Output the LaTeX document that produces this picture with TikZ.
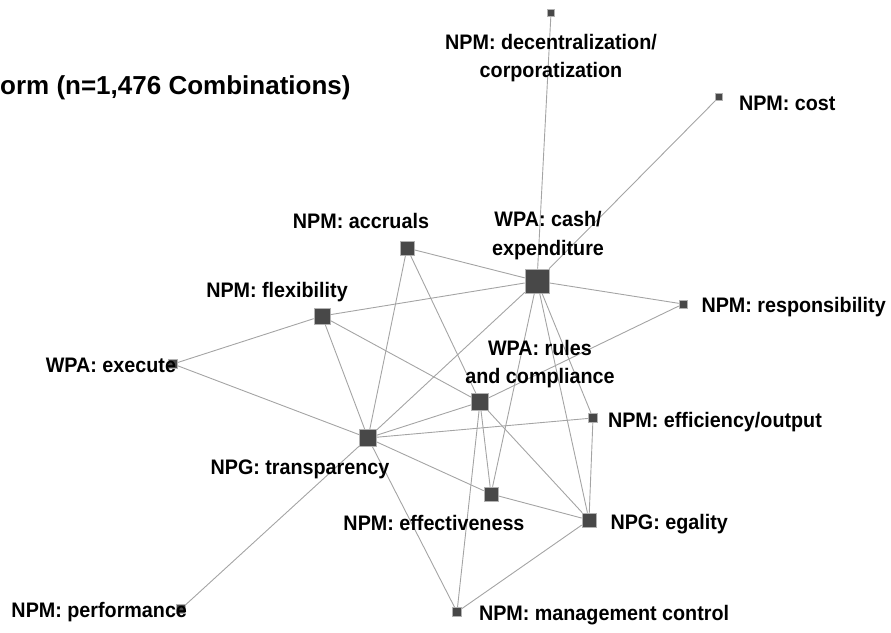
\documentclass[tikz,border=0pt]{standalone}
\usepackage{fontspec}
\setmainfont{Liberation Sans}[FakeStretch=0.94]
\newfontfamily\titlefont{Liberation Sans}
\usetikzlibrary{positioning}
\definecolor{boxgray}{HTML}{484848}
\definecolor{linegray}{HTML}{A4A4A4}

\begin{document}
\begin{tikzpicture}[x=1pt,y=-1pt,
  sq/.style={draw=gray!60,fill=boxgray,line width=0.6pt,inner sep=0pt,minimum size=#1},
  lbl/.style={inner sep=0pt,font=\fontsize{21}{29}\selectfont\bfseries,text height=15.5pt,text depth=4pt},
  two/.style={inner sep=0pt,font=\fontsize{21}{28.5}\selectfont\bfseries,align=center},
  link/.style={draw=linegray,line width=0.9pt}]

\useasboundingbox (0,0) rectangle (891,632);

% squares
\node[sq=7pt]  (dec)    at (551,13)  {};
\node[sq=7pt]  (cost)   at (719,97)  {};
\node[sq=14pt] (accr)   at (407,248) {};
\node[sq=24pt] (cash)   at (537,281) {};
\node[sq=16pt] (flex)   at (322,316) {};
\node[sq=8pt]  (resp)   at (683,304) {};
\node[sq=9pt]  (exec)   at (173,364) {};
\node[sq=17pt] (rules)  at (480,402) {};
\node[sq=9pt]  (effout) at (593,418) {};
\node[sq=17pt] (transp) at (368,438) {};
\node[sq=14pt] (effect) at (491,494) {};
\node[sq=14pt] (egal)   at (589,520) {};
\node[sq=9pt]  (perf)   at (181,609) {};
\node[sq=9pt]  (mgmt)   at (457,612) {};

% links
\path[link] (cash) edge (dec) edge (cost) edge (accr) edge (flex) edge (resp)
                   edge (transp) edge (effect) edge (effout) edge (egal)
            (flex) edge (exec) edge (transp) edge (rules)
            (accr) edge (transp) edge (rules)
            (rules) edge (resp) edge (transp) edge (effect) edge (egal) edge (mgmt)
            (transp) edge (exec) edge (effout) edge (effect) edge (perf) edge (mgmt)
            (egal) edge (effect) edge (effout) edge (mgmt);

% labels
\node[two, below=17pt of dec] (decL) {NPM: decentralization/\\corporatization};
\node[lbl, right=16pt of cost, yshift=-8pt] (costL) {NPM: cost};
\node[lbl, above=8pt of accr, xshift=-46pt] (accrL) {NPM: accruals};
\node[two, above=9pt of cash, xshift=11pt] (cashL) {WPA: cash/\\expenditure};
\node[lbl, above=6pt of flex, xshift=-45pt] (flexL) {NPM: flexibility};
\node[lbl, right=14pt of resp, yshift=-3pt] (respL) {NPM: responsibility};
\node[lbl, left=-8pt of exec, yshift=-3pt] (execL) {WPA: execute};
\node[two, above=5pt of rules, xshift=60pt] (rulesL) {WPA: rules\\and compliance};
\node[lbl, right=10pt of effout, yshift=-4pt] (effoutL) {NPM: efficiency/output};
\node[lbl, below=12pt of transp, xshift=-68pt] (transpL) {NPG: transparency};
\node[lbl, below=13pt of effect, xshift=-57pt] (effectL) {NPM: effectiveness};
\node[lbl, right=14pt of egal, yshift=-4pt] (egalL) {NPG: egality};
\node[lbl, left=-11pt of perf, yshift=-3pt] (perfL) {NPM: performance};
\node[lbl, right=17pt of mgmt, yshift=-3pt] (mgmtL) {NPM: management control};
\node[anchor=west, inner sep=0pt, font=\titlefont\fontsize{26}{30}\selectfont\bfseries] (title) at (0,88) {orm (n=1,476 Combinations)};

\end{tikzpicture}
\end{document}
